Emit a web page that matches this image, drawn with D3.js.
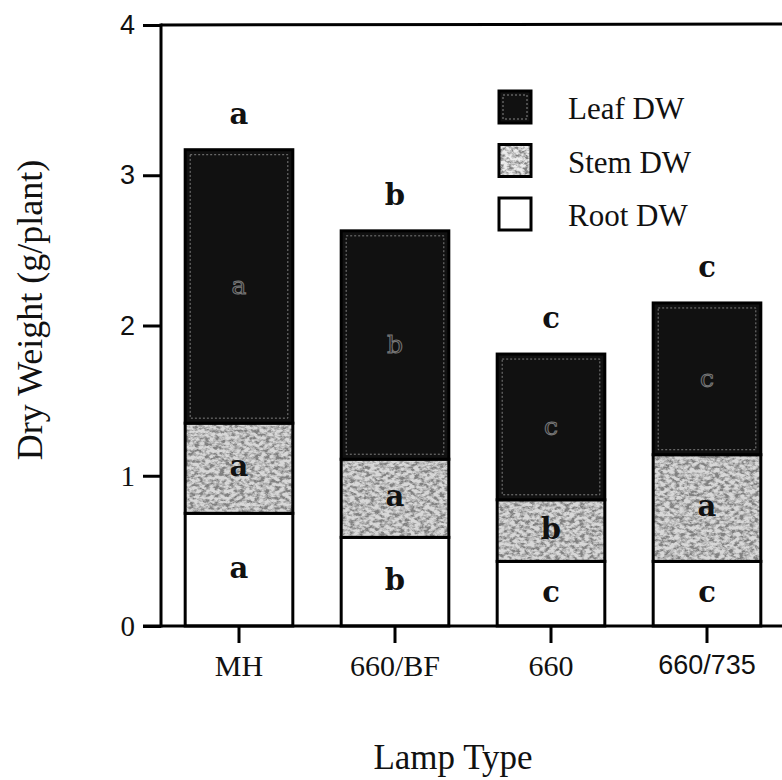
<!DOCTYPE html>
<html>
<head>
<meta charset="utf-8">
<script src="https://cdn.jsdelivr.net/npm/d3@7"></script>
<style>
  body { margin: 0; background: #fff; }
  svg { display: block; }
</style>
</head>
<body>
<svg id="chart"></svg>
<script>
// values (g/plant)
const lamps = ["MH", "660/BF", "660", "660/735"];
const rootDW = [0.75, 0.59, 0.43, 0.43];
const stemDW = [0.60, 0.52, 0.41, 0.71];
const leafDW = [1.82, 1.52, 0.97, 1.01];

// mean separation letters
const rootLetters = ["a", "b", "c", "c"];
const stemLetters = ["a", "a", "b", "a"];
const leafLetters = ["a", "b", "c", "c"];
const totalLetters = ["a", "b", "c", "c"];

const yTicks = [0, 1, 2, 3, 4];
const legendNames = ["Leaf DW", "Stem DW", "Root DW"];

const width = 782, height = 780;
const serif = "'Liberation Serif', 'Times New Roman', serif";
const sans = "'Liberation Sans', Arial, sans-serif";
const letterFont = "'DejaVu Serif', serif";

const svg = d3.select("#chart")
  .attr("width", width)
  .attr("height", height);

// grain filter for the stem shading
const defs = svg.append("defs");
const grain = defs.append("filter").attr("id", "grain")
  .attr("x", 0).attr("y", 0).attr("width", 1).attr("height", 1);
grain.append("feTurbulence")
  .attr("type", "fractalNoise").attr("baseFrequency", "0.2 0.3")
  .attr("numOctaves", 4).attr("seed", 7).attr("result", "noise");
grain.append("feColorMatrix").attr("in", "noise").attr("type", "matrix")
  .attr("values", "0 0 0 0 0.22  0 0 0 0 0.22  0 0 0 0 0.22  3.2 0 0 0 -1.2")
  .attr("result", "speck");
grain.append("feComposite").attr("in", "speck").attr("in2", "SourceGraphic")
  .attr("operator", "in").attr("result", "clipped");
const merge = grain.append("feMerge");
merge.append("feMergeNode").attr("in", "SourceGraphic");
merge.append("feMergeNode").attr("in", "clipped");

const x0 = 161, yBase = 626, yTop = 25;

const x = d3.scaleBand()
  .domain(lamps)
  .range([x0, x0 + 4 * 156])
  .paddingInner(0.31)
  .paddingOuter(0.155);

const y = d3.scaleLinear()
  .domain([0, 4])
  .range([yBase, yTop]);

const rows = lamps.map((l, i) => ({ lamp: l, root: rootDW[i], stem: stemDW[i], leaf: leafDW[i], i }));
const stack = d3.stack().keys(["root", "stem", "leaf"]);
const series = stack(rows);

// bars
const g = svg.append("g");
series.forEach(s => {
  const key = s.key;
  const segs = g.selectAll("g." + key)
    .data(s)
    .join("g")
    .attr("class", key);

  segs.append("rect")
    .attr("x", d => x(d.data.lamp))
    .attr("y", d => y(d[1]))
    .attr("width", x.bandwidth())
    .attr("height", d => y(d[0]) - y(d[1]))
    .attr("fill", key === "leaf" ? "#111" : key === "stem" ? "#d8d8d8" : "#fff")
    .attr("filter", key === "stem" ? "url(#grain)" : null);

  if (key === "leaf") {
    // light rim seen just inside the black blocks
    segs.append("rect")
      .attr("x", d => x(d.data.lamp) + 5)
      .attr("y", d => y(d[1]) + 5)
      .attr("width", x.bandwidth() - 10)
      .attr("height", d => y(d[0]) - y(d[1]) - 10)
      .attr("fill", "none")
      .attr("stroke", "#9a9a9a")
      .attr("stroke-width", 1)
      .attr("stroke-dasharray", "2 2")
      .attr("opacity", 0.8);
  }

  segs.append("rect")
    .attr("x", d => x(d.data.lamp))
    .attr("y", d => y(d[1]))
    .attr("width", x.bandwidth())
    .attr("height", d => y(d[0]) - y(d[1]))
    .attr("fill", "none")
    .attr("stroke", "#000")
    .attr("stroke-width", 3);

  const letters = key === "root" ? rootLetters : key === "stem" ? stemLetters : leafLetters;
  segs.append("text")
    .attr("x", d => x(d.data.lamp) + x.bandwidth() / 2)
    .attr("y", d => (y(d[0]) + y(d[1])) / 2 + 8)
    .attr("text-anchor", "middle")
    .attr("font-family", letterFont)
    .attr("font-weight", key === "leaf" ? "normal" : "bold")
    .attr("font-size", key === "leaf" ? 25 : 29)
    .attr("fill", key === "leaf" ? "#1c1c1c" : "#111")
    .attr("stroke", key === "leaf" ? "#777" : "none")
    .attr("stroke-width", 1)
    .text(d => letters[d.data.i]);
});

// letters above the bars
g.selectAll("text.total")
  .data(rows)
  .join("text")
  .attr("class", "total")
  .attr("x", d => x(d.lamp) + x.bandwidth() / 2)
  .attr("y", d => y(d.root + d.stem + d.leaf) - 26)
  .attr("text-anchor", "middle")
  .attr("font-family", letterFont)
  .attr("font-weight", "bold")
  .attr("font-size", 29)
  .attr("fill", "#111")
  .text(d => totalLetters[d.i]);

// y axis
const yAxis = svg.append("g")
  .attr("transform", `translate(${x0},0)`)
  .call(d3.axisLeft(y).tickValues(yTicks).tickSize(18).tickPadding(8).tickFormat(d3.format("d")));
yAxis.select(".domain").remove();
yAxis.selectAll(".tick line").attr("stroke", "#000").attr("stroke-width", 3);
yAxis.selectAll(".tick text")
  .attr("fill", "#111")
  .attr("font-size", d => d < 2 ? 29 : 27)
  .attr("font-family", d => d < 2 ? serif : sans);

svg.append("line")
  .attr("x1", x0).attr("x2", x0)
  .attr("y1", yTop - 1.5).attr("y2", yBase + 1.5)
  .attr("stroke", "#000").attr("stroke-width", 3);

// top frame line
svg.append("line")
  .attr("x1", x0).attr("x2", width)
  .attr("y1", yTop).attr("y2", yTop - 1)
  .attr("stroke", "#000").attr("stroke-width", 3);

// x axis
const xAxis = svg.append("g")
  .attr("transform", `translate(0,${yBase})`)
  .call(d3.axisBottom(x).tickSize(17).tickPadding(12));
xAxis.select(".domain").remove();
xAxis.selectAll(".tick line").attr("stroke", "#000").attr("stroke-width", 3);
xAxis.selectAll(".tick text")
  .attr("fill", "#111")
  .attr("font-size", d => d === "660/735" ? 27 : 30)
  .attr("font-family", d => d === "660/735" ? sans : serif);

svg.append("line")
  .attr("x1", x0 - 18).attr("x2", width)
  .attr("y1", yBase).attr("y2", yBase)
  .attr("stroke", "#000").attr("stroke-width", 3);

// axis titles
svg.append("text")
  .attr("transform", "translate(42,310) rotate(-90)")
  .attr("text-anchor", "middle")
  .attr("font-family", serif)
  .attr("font-size", 36)
  .attr("fill", "#111")
  .text("Dry Weight (g/plant)");

svg.append("text")
  .attr("x", 453).attr("y", 769)
  .attr("text-anchor", "middle")
  .attr("font-family", serif)
  .attr("font-size", 35)
  .attr("fill", "#111")
  .text("Lamp Type");

// legend
const legend = svg.append("g").attr("transform", "translate(499,91)");
const item = legend.selectAll("g")
  .data(legendNames)
  .join("g")
  .attr("transform", (d, i) => `translate(0,${i * 53.5})`);

item.append("rect")
  .attr("width", 32).attr("height", 32)
  .attr("fill", (d, i) => i === 0 ? "#111" : i === 1 ? "#ececec" : "#fff")
  .attr("filter", (d, i) => i === 1 ? "url(#grain)" : null);
item.filter((d, i) => i === 0).append("rect")
  .attr("x", 4).attr("y", 4).attr("width", 24).attr("height", 24)
  .attr("fill", "none").attr("stroke", "#888").attr("stroke-width", 1)
  .attr("stroke-dasharray", "2 2");
item.append("rect")
  .attr("width", 32).attr("height", 32)
  .attr("fill", "none").attr("stroke", "#000").attr("stroke-width", 3);
item.append("text")
  .attr("x", 69).attr("y", 28)
  .attr("font-family", serif)
  .attr("font-size", 31)
  .attr("fill", "#111")
  .text(d => d);
</script>
</body>
</html>
